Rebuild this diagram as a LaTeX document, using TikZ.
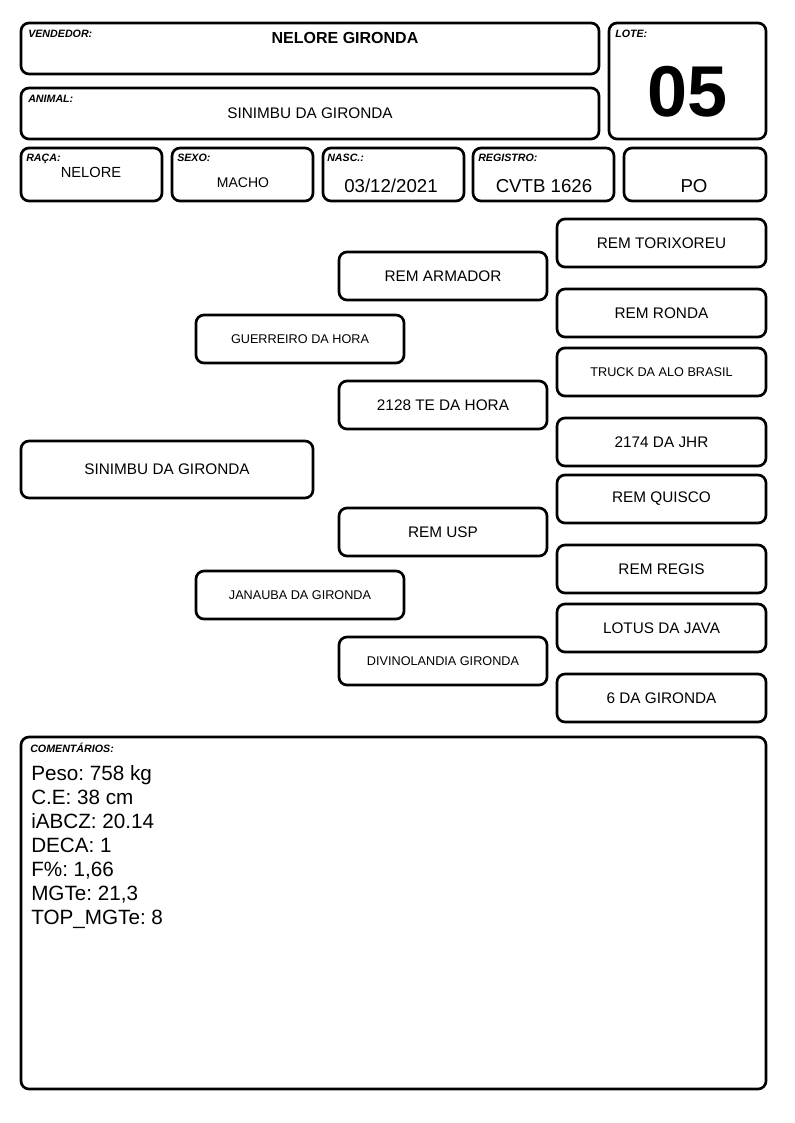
\documentclass[tikz,border=0pt]{standalone}
\usepackage{fontspec}
\setmainfont{Liberation Sans}
\frenchspacing
\begin{document}
\begin{tikzpicture}[x=0.75pt, y=-0.75pt,
    box/.style={draw=black, line width=2pt, rounded corners=6pt, shape=rectangle, inner sep=0pt},
    pedbox/.style={box, minimum width=156pt, minimum height=36pt},
    fieldbox/.style={box, minimum width=105.75pt, minimum height=39.75pt},
    tag/.style={anchor=north west, inner sep=0pt, font=\bfseries\itshape\fontsize{8}{9}\selectfont},
    big/.style={font=\fontsize{11.5}{13}\selectfont},
    small/.style={font=\fontsize{9.5}{11}\selectfont}]
\useasboundingbox (0,0) rectangle (794,1123);

% header
\node[box, minimum width=433.5pt, minimum height=38.25pt] (vendedor) at (310,48.5) {};
\node[box, minimum width=433.5pt, minimum height=38.25pt] (animal) at (310,113.5) {};
\node[box, minimum width=117.75pt, minimum height=87pt] (lote) at (687.5,81) {};
\node[tag] (vendedor_t) at (28,30) {VENDEDOR:};
\node[tag] (animal_t) at (28,95) {ANIMAL:};
\node[tag] (lote_t) at (615,30) {LOTE:};
\node[font=\bfseries\fontsize{12}{14}\selectfont] (vendedor_v) at (345,38) {NELORE GIRONDA};
\node[big] (animal_v) at (310,113) {SINIMBU DA GIRONDA};
\node[font=\bfseries\fontsize{54}{60}\selectfont] (lote_v) at (688,92) {05};

\node[fieldbox] (raca) at (91.5,174.5) {};
\node[fieldbox] (sexo) at (242.5,174.5) {};
\node[fieldbox] (nasc) at (393.5,174.5) {};
\node[fieldbox] (registro) at (543.5,174.5) {};
\node[fieldbox, minimum width=106.5pt] (categoria) at (695,174.5) {};
\node[tag] (raca_t) at (26,154) {RAÇA:};
\node[tag] (sexo_t) at (177,154) {SEXO:};
\node[tag] (nasc_t) at (327,154) {NASC.:};
\node[tag] (registro_t) at (478,154) {REGISTRO:};
\node[font=\fontsize{11}{13}\selectfont] (raca_v) at (91,172) {NELORE};
\node[font=\fontsize{10.5}{12}\selectfont] (sexo_v) at (243,183) {MACHO};
\node[font=\fontsize{14}{16}\selectfont] (nasc_v) at (391,186) {03/12/2021};
\node[font=\fontsize{14}{16}\selectfont] (registro_v) at (544,186) {CVTB 1626};
\node[font=\fontsize{14}{16}\selectfont] (categoria_v) at (694,186) {PO};

% pedigree
\node[box, big, minimum width=219pt, minimum height=42.75pt] (p_0) at (167,469.5) {SINIMBU DA GIRONDA};

\node[pedbox, small] (p_1) at (300,339) {GUERREIRO DA HORA};
\node[pedbox, small] (p_2) at (300,595) {JANAUBA DA GIRONDA};

\node[pedbox, big] (p_11) at (443,276) {REM ARMADOR};
\node[pedbox, big] (p_12) at (443,405) {2128 TE DA HORA};
\node[pedbox, big] (p_21) at (443,532) {REM USP};
\node[pedbox, small] (p_22) at (443,661) {DIVINOLANDIA GIRONDA};

\node[pedbox, big, minimum width=156.75pt] (p_111) at (661.5,243) {REM TORIXOREU};
\node[pedbox, big, minimum width=156.75pt] (p_112) at (661.5,313) {REM RONDA};
\node[pedbox, small, minimum width=156.75pt] (p_121) at (661.5,372) {TRUCK DA ALO BRASIL};
\node[pedbox, big, minimum width=156.75pt] (p_122) at (661.5,442) {2174 DA JHR};
\node[pedbox, big, minimum width=156.75pt] (p_211) at (661.5,499) {REM QUISCO};
\node[pedbox, big, minimum width=156.75pt] (p_212) at (661.5,569) {REM REGIS};
\node[pedbox, big, minimum width=156.75pt] (p_221) at (661.5,628) {LOTUS DA JAVA};
\node[pedbox, big, minimum width=156.75pt] (p_222) at (661.5,698) {6 DA GIRONDA};

% comments
\node[box, minimum width=558.75pt, minimum height=264pt] (comentarios) at (393.5,913) {};
\node[tag] (comentarios_t) at (30,743) {COMENTÁRIOS:};
\node[anchor=north west, inner sep=0pt, align=left, font=\fontsize{15.5}{18}\selectfont] (comentarios_v) at (31,765)
    {Peso: 758 kg\\C.E: 38 cm\\iABCZ: 20.14\\DECA: 1\\F\%: 1,66\\MGTe: 21,3\\TOP\_MGTe: 8};
\end{tikzpicture}
\end{document}
